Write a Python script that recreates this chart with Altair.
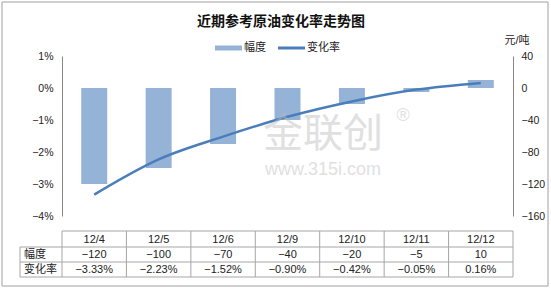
import altair as alt
import pandas as pd

cats = ["12/4", "12/5", "12/6", "12/9", "12/10", "12/11", "12/12"]
amp = [-120, -100, -70, -40, -20, -5, 10]
rate = [-3.33, -2.23, -1.52, -0.90, -0.42, -0.05, 0.16]
left_ticks = [-4, -3, -2, -1, 0, 1]
right_ticks = [-160, -120, -80, -40, 0, 40]

title_text = "近期参考原油变化率走势图"
legend_labels = ["幅度", "变化率"]
unit_text = "元/吨"

df = pd.DataFrame({"cat": cats, "amp": amp, "rate": rate})

FONT = "Liberation Sans, Noto Sans CJK SC"
BAR = "#95B3D7"
LINE = "#4A7EBB"
GRID = "#a6a6a6"
TXT = "#222222"

W, H = 451, 160
xscale = alt.Scale(paddingInner=0, paddingOuter=0)
X = alt.X("cat:N", sort=cats, scale=xscale, axis=None)

base = alt.Chart(df)

bars = base.mark_bar(size=26, color=BAR).encode(
    x=X,
    y=alt.Y("amp:Q", scale=alt.Scale(domain=[-160, 40], nice=False, zero=False),
            axis=alt.Axis(orient="right", values=right_ticks, ticks=False, grid=False,
                          title=None, domainColor="#888888", labelAlign="left",
                          labelPadding=8, labelFont=FONT, labelFontSize=10.5,
                          labelColor=TXT, labelExpr="format(datum.value, 'd')")),
)

line = base.mark_line(interpolate="monotone", color=LINE, strokeWidth=2.5).encode(
    x=X,
    y=alt.Y("rate:Q", scale=alt.Scale(domain=[-4, 1], nice=False, zero=False),
            axis=alt.Axis(orient="left", values=left_ticks, ticks=False, grid=False,
                          title=None, domainColor="#888888", labelPadding=9,
                          labelFont=FONT, labelFontSize=10.5, labelColor=TXT,
                          labelExpr="format(datum.value, 'd') + '%'")),
)

# watermark text
wm = alt.Chart(pd.DataFrame({"t": ["金联创"]})).mark_text(
    font="Noto Sans CJK SC", fontSize=40, color="#bbbbbb", opacity=0.45
).encode(x=alt.value(261), y=alt.value(79), text="t:N")
wm2 = alt.Chart(pd.DataFrame({"t": ["www.315i.com"]})).mark_text(
    font="Liberation Sans", fontSize=18, color="#bbbbbb", opacity=0.45
).encode(x=alt.value(261), y=alt.value(114), text="t:N")
wm3 = alt.Chart(pd.DataFrame({"t": ["®"]})).mark_text(
    font="Liberation Sans", fontSize=18, color="#bbbbbb", opacity=0.45
).encode(x=alt.value(341), y=alt.value(60), text="t:N")

# title
title = alt.Chart(pd.DataFrame({"t": [title_text]})).mark_text(
    font="Noto Sans CJK SC", fontSize=14, fontWeight="bold", color="#111111"
).encode(x=alt.value(219), y=alt.value(-34), text="t:N")

# legend
leg_bar = alt.Chart(pd.DataFrame({"k": [0]})).mark_rect(color=BAR).encode(
    x=alt.value(153), x2=alt.value(180), y=alt.value(-10.5), y2=alt.value(-5.5))
leg_line = alt.Chart(pd.DataFrame({"k": [0]})).mark_rule(color=LINE, strokeWidth=3).encode(
    x=alt.value(216), x2=alt.value(243), y=alt.value(-8))
leg_t1 = alt.Chart(pd.DataFrame({"t": [legend_labels[0]]})).mark_text(
    font=FONT, fontSize=11, color=TXT, align="left").encode(
    x=alt.value(182), y=alt.value(-8), text="t:N")
leg_t2 = alt.Chart(pd.DataFrame({"t": [legend_labels[1]]})).mark_text(
    font=FONT, fontSize=11, color=TXT, align="left").encode(
    x=alt.value(245), y=alt.value(-8), text="t:N")

unit = alt.Chart(pd.DataFrame({"t": [unit_text]})).mark_text(
    font=FONT, fontSize=11, color=TXT).encode(
    x=alt.value(455), y=alt.value(-15), text="t:N")

# data table
T0, R1, R2, R3 = 175, 191, 206, 221
vlines = base.mark_rule(color=GRID).encode(
    x=alt.X("cat:N", sort=cats, scale=xscale, axis=None, bandPosition=0),
    y=alt.value(T0), y2=alt.value(R3))
vlast = base.transform_filter(alt.datum.cat == cats[-1]).mark_rule(color=GRID).encode(
    x=alt.X("cat:N", sort=cats, scale=xscale, axis=None, bandPosition=1),
    y=alt.value(T0), y2=alt.value(R3))
hl_top = alt.Chart(pd.DataFrame({"k": [0]})).mark_rule(color=GRID).encode(
    x=alt.value(0), x2=alt.value(W), y=alt.value(T0))
hl_rows = alt.Chart(pd.DataFrame({"yy": [R1, R2, R3]})).mark_rule(color=GRID).encode(
    x=alt.value(-42), x2=alt.value(W), y=alt.Y("yy:Q", scale=None))
vl_label = alt.Chart(pd.DataFrame({"k": [0]})).mark_rule(color=GRID).encode(
    x=alt.value(-42), y=alt.value(R1), y2=alt.value(R3))

row_dates = base.mark_text(font=FONT, fontSize=11, color=TXT).encode(
    x=X, y=alt.value((T0 + R1) / 2 + 0.5), text="cat:N")
row_amp = base.transform_calculate(lab="format(datum.amp, 'd')").mark_text(
    font=FONT, fontSize=11, color=TXT).encode(
    x=X, y=alt.value((R1 + R2) / 2 + 0.5), text="lab:N")
row_rate = base.transform_calculate(lab="format(datum.rate, '.2f') + '%'").mark_text(
    font=FONT, fontSize=11, color=TXT).encode(
    x=X, y=alt.value((R2 + R3) / 2 + 0.5), text="lab:N")
lab1 = alt.Chart(pd.DataFrame({"t": [legend_labels[0]]})).mark_text(
    font=FONT, fontSize=11, color=TXT, align="left").encode(
    x=alt.value(-38), y=alt.value((R1 + R2) / 2 + 0.5), text="t:N")
lab2 = alt.Chart(pd.DataFrame({"t": [legend_labels[1]]})).mark_text(
    font=FONT, fontSize=11, color=TXT, align="left").encode(
    x=alt.value(-38), y=alt.value((R2 + R3) / 2 + 0.5), text="t:N")

frame = alt.Chart(pd.DataFrame({"k": [0]})).mark_rect(
    fill=None, fillOpacity=0, stroke="#a0a0a0", strokeWidth=1).encode(
    x=alt.value(-60), x2=alt.value(486), y=alt.value(-54), y2=alt.value(230))

chart = alt.layer(
    bars, line, wm, wm2, wm3, title, leg_bar, leg_line, leg_t1, leg_t2, unit,
    vlines, vlast, hl_top, hl_rows, vl_label, row_dates, row_amp, row_rate,
    lab1, lab2, frame,
).resolve_scale(y="independent").properties(
    width=W, height=H,
    autosize=alt.AutoSizeParams(type="none"),
    padding={"left": 62, "top": 56, "right": 38, "bottom": 73},
    background="white",
).configure_view(stroke=None)

chart.save("out.html", embed_options={"renderer": "svg", "actions": False})
